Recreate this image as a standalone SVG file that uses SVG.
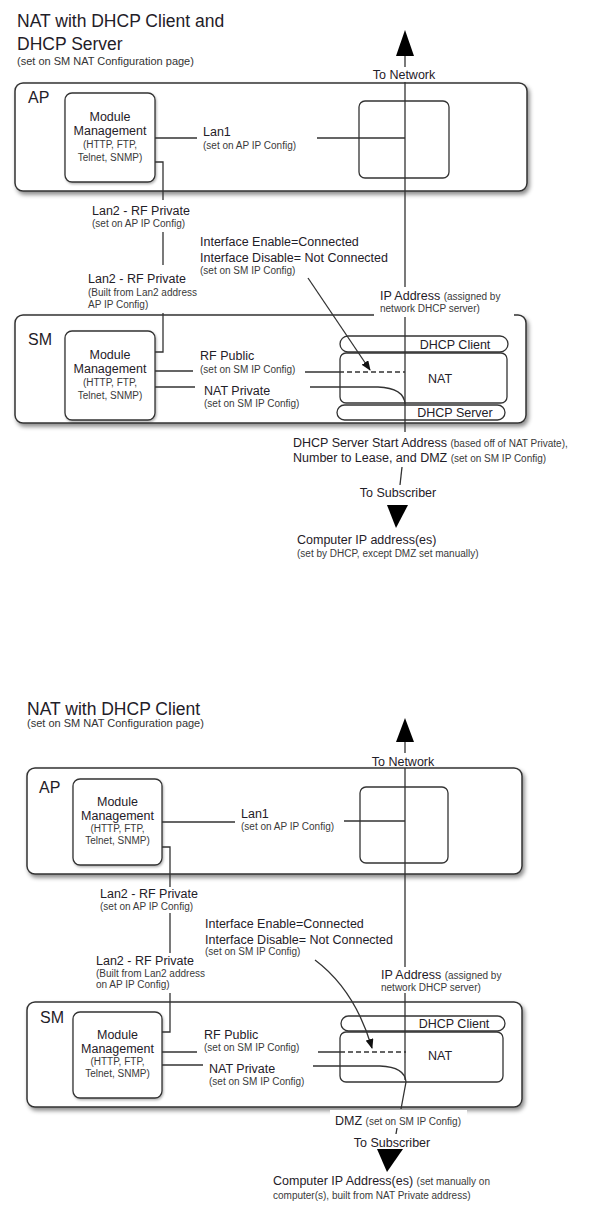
<svg xmlns="http://www.w3.org/2000/svg" width="613" height="1209" viewBox="0 0 613 1209">
<style>
text{font-family:"Liberation Sans",Arial,Helvetica,sans-serif;fill:#1f2028;font-size:12.5px}
.s{font-size:10px;fill:#3a3a3a}
.st{font-size:11px;fill:#333}
.h{font-size:17.5px}
.big{font-size:16px}
.m{text-anchor:middle}
.box{fill:#fff;stroke:#333;stroke-width:1.5}
.in{fill:#fff;stroke:#333;stroke-width:1.3}
.ln{fill:none;stroke:#333;stroke-width:1.3}
.dash{fill:none;stroke:#333;stroke-width:1.3;stroke-dasharray:5 3}
.ah{fill:#000}
</style>
<defs>
<filter id="sh" x="-5%" y="-10%" width="112%" height="130%">
<feDropShadow dx="2" dy="3" stdDeviation="2" flood-color="#000" flood-opacity="0.45"/>
</filter>
<filter id="sh2" x="-10%" y="-10%" width="125%" height="125%">
<feDropShadow dx="1" dy="1.5" stdDeviation="1" flood-color="#000" flood-opacity="0.3"/>
</filter>
<marker id="arr" markerWidth="10" markerHeight="8" refX="9" refY="4" orient="auto" markerUnits="userSpaceOnUse">
<path d="M0,0 L10,4 L0,8 Z" fill="#111"/>
</marker>
</defs>

<!-- ===== Diagram 1 ===== -->
<g id="title1">
<text x="17" y="27" class="h">NAT with DHCP Client and</text>
<text x="17" y="50" class="h">DHCP Server</text>
<text x="17" y="65" class="st">(set on SM NAT Configuration page)</text>
</g>

<g id="ap1">
<rect x="15" y="83" width="512" height="108" rx="8" class="box" filter="url(#sh)"/>
<text x="28" y="103" class="big">AP</text>
</g>
<g id="ap1-mgmt">
<rect x="65" y="93" width="90" height="89" rx="7" class="in" filter="url(#sh2)"/>
<text x="110" y="121" class="m">Module</text>
<text x="110" y="135" class="m">Management</text>
<text x="110" y="148" class="m s">(HTTP, FTP,</text>
<text x="110" y="161" class="m s">Telnet, SNMP)</text>
</g>
<g id="ap1-inner">
<rect x="359" y="101" width="90" height="77" rx="6" class="in"/>
</g>

<g id="sm1">
<rect x="15" y="315" width="511" height="108" rx="8" class="box" filter="url(#sh)"/>
<text x="28" y="345" class="big">SM</text>
</g>
<g id="sm1-mgmt">
<rect x="65" y="331" width="90" height="89" rx="7" class="in" filter="url(#sh2)"/>
<text x="110" y="359" class="m">Module</text>
<text x="110" y="373" class="m">Management</text>
<text x="110" y="386" class="m s">(HTTP, FTP,</text>
<text x="110" y="399" class="m s">Telnet, SNMP)</text>
</g>
<g id="sm1-dhcpclient">
<rect x="340" y="336" width="168" height="16" rx="8" class="in"/>
<text x="455" y="349" class="m">DHCP Client</text>
</g>
<g id="sm1-nat">
<rect x="340" y="353" width="167" height="50" rx="6" class="in"/>
<text x="440" y="383" class="m">NAT</text>
</g>
<g id="sm1-dhcpserver">
<rect x="337" y="405" width="168" height="15" rx="7.5" class="in"/>
<text x="455" y="417" class="m">DHCP Server</text>
</g>

<g id="labels1">
<text x="404" y="79" class="m">To Network</text>
<text x="203" y="136">Lan1</text>
<text x="203" y="149" class="s">(set on AP IP Config)</text>
<text x="92" y="215">Lan2 - RF Private</text>
<text x="92" y="227" class="s">(set on AP IP Config)</text>
<text x="200" y="246">Interface Enable=Connected</text>
<text x="200" y="262">Interface Disable= Not Connected</text>
<text x="200" y="274" class="s">(set on SM IP Config)</text>
<text x="88" y="283">Lan2 - RF Private</text>
<text x="88" y="296" class="s">(Built from Lan2 address</text>
<text x="88" y="308" class="s">AP IP Config)</text>
<rect x="374" y="288" width="140" height="29" fill="#fff"/>
<text x="380" y="300">IP Address <tspan class="s">(assigned by</tspan></text>
<text x="380" y="312" class="s">network DHCP server)</text>
<text x="200" y="360">RF Public</text>
<text x="200" y="373" class="s">(set on SM IP Config)</text>
<text x="204" y="395">NAT Private</text>
<text x="204" y="407" class="s">(set on SM IP Config)</text>
<text x="293" y="447">DHCP Server Start Address <tspan class="s">(based off of NAT Private),</tspan></text>
<text x="293" y="462">Number to Lease, and DMZ <tspan class="s">(set on SM IP Config)</tspan></text>
<text x="398" y="497" class="m">To Subscriber</text>
<text x="297" y="544">Computer IP address(es)</text>
<text x="297" y="557" class="s">(set by DHCP, except DMZ set manually)</text>
</g>

<g id="connectors1">
<polygon points="405,30 396,56 414,56" class="ah"/>
<path d="M405,56 V67 M405,82 V287" class="ln"/>
<path d="M155,138 H197 M317,138 H405" class="ln"/>
<path d="M155,162 H163 V200 M163,232 V265 M163,313 V352 H155" class="ln"/>
<path d="M405,317 V432" class="ln"/>
<path d="M155,371 H193 M305,372 H339" class="ln"/>
<path d="M339,372 H405" class="dash"/>
<path d="M155,387 H195" class="ln"/>
<path d="M310,387 H378 Q404,388 405,404" class="ln"/>
<path d="M308,278 L370,370" class="ln" marker-end="url(#arr)"/>
<path d="M402,467 L400,485" class="ln"/>
<polygon points="387,505 408,505 396,528" class="ah"/>
</g>

<!-- ===== Diagram 2 ===== -->
<g id="title2">
<text x="27" y="715" class="h">NAT with DHCP Client</text>
<text x="27" y="727" class="st">(set on SM NAT Configuration page)</text>
</g>

<g id="ap2">
<rect x="27" y="768" width="495" height="106" rx="8" class="box" filter="url(#sh)"/>
<text x="39" y="793" class="big">AP</text>
</g>
<g id="ap2-mgmt">
<rect x="73" y="779" width="89" height="86" rx="7" class="in" filter="url(#sh2)"/>
<text x="117.5" y="806" class="m">Module</text>
<text x="117.5" y="820" class="m">Management</text>
<text x="117.5" y="832" class="m s">(HTTP, FTP,</text>
<text x="117.5" y="844" class="m s">Telnet, SNMP)</text>
</g>
<g id="ap2-inner">
<rect x="360" y="787" width="88" height="76" rx="6" class="in"/>
</g>

<g id="sm2">
<rect x="27" y="1002" width="495" height="105" rx="8" class="box" filter="url(#sh)"/>
<text x="40" y="1023" class="big">SM</text>
</g>
<g id="sm2-mgmt">
<rect x="73" y="1012" width="89" height="86" rx="7" class="in" filter="url(#sh2)"/>
<text x="117.5" y="1039" class="m">Module</text>
<text x="117.5" y="1053" class="m">Management</text>
<text x="117.5" y="1065" class="m s">(HTTP, FTP,</text>
<text x="117.5" y="1077" class="m s">Telnet, SNMP)</text>
</g>
<g id="sm2-dhcpclient">
<rect x="341" y="1016" width="164" height="15" rx="7.5" class="in"/>
<text x="454" y="1028" class="m">DHCP Client</text>
</g>
<g id="sm2-nat">
<rect x="340" y="1032" width="163" height="50" rx="6" class="in"/>
<text x="440" y="1060" class="m">NAT</text>
</g>

<g id="labels2">
<text x="403" y="766" class="m">To Network</text>
<text x="241" y="818">Lan1</text>
<text x="241" y="830" class="s">(set on AP IP Config)</text>
<text x="100" y="898">Lan2 - RF Private</text>
<text x="100" y="910" class="s">(set on AP IP Config)</text>
<text x="205" y="928">Interface Enable=Connected</text>
<text x="205" y="944">Interface Disable= Not Connected</text>
<text x="205" y="955" class="s">(set on SM IP Config)</text>
<text x="96" y="965">Lan2 - RF Private</text>
<text x="96" y="977" class="s">(Built from Lan2 address</text>
<text x="96" y="988" class="s">on AP IP Config)</text>
<text x="381" y="979">IP Address <tspan class="s">(assigned by</tspan></text>
<text x="381" y="991" class="s">network DHCP server)</text>
<text x="204" y="1039">RF Public</text>
<text x="204" y="1051" class="s">(set on SM IP Config)</text>
<text x="209" y="1073">NAT Private</text>
<text x="209" y="1085" class="s">(set on SM IP Config)</text>
<rect x="330" y="1110" width="137" height="18" fill="#fff"/>
<text x="335" y="1125">DMZ <tspan class="s">(set on SM IP Config)</tspan></text>
<text x="392" y="1147" class="m">To Subscriber</text>
<text x="273" y="1185">Computer IP Address(es) <tspan class="s">(set manually on</tspan></text>
<text x="273" y="1199" class="s">computer(s), built from NAT Private address)</text>
</g>

<g id="connectors2">
<polygon points="405,718 396,742 414,742" class="ah"/>
<path d="M405,742 V753 M405,768 V967" class="ln"/>
<path d="M162,822 H235 M344,821 H405" class="ln"/>
<path d="M162,847 H170 V887 M170,913 V953 M170,993 V1032 H162" class="ln"/>
<path d="M405,993 V1080" class="ln"/>
<path d="M162,1052 H197 M318,1052 H340" class="ln"/>
<path d="M340,1052 H406" class="dash"/>
<path d="M162,1065 H203" class="ln"/>
<path d="M313,1066 H380 Q405,1067 406,1082 L401,1109" class="ln"/>
<path d="M397,1128 L396,1134" class="ln"/>
<path d="M315,960 Q355,990 372,1048" class="ln" marker-end="url(#arr)"/>
<polygon points="377,1149 403,1149 387,1172" class="ah"/>
</g>
</svg>
